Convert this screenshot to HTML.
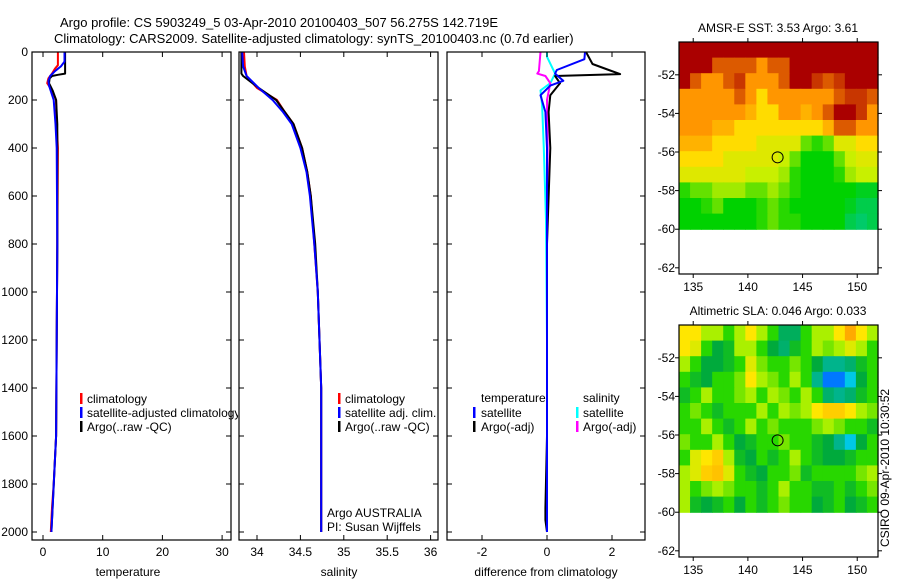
<!DOCTYPE html>
<html><head><meta charset="utf-8">
<style>
html,body{margin:0;padding:0;background:#fff;}
svg{display:block;font-family:"Liberation Sans",sans-serif;}
</style></head>
<body>
<svg id="chart" width="900" height="580" viewBox="0 0 900 580" xmlns="http://www.w3.org/2000/svg">
<text x="60" y="27" font-size="13">Argo profile: CS 5903249_5 03-Apr-2010 20100403_507 56.275S 142.719E</text>
<text x="54" y="43" font-size="13">Climatology: CARS2009. Satellite-adjusted climatology: synTS_20100403.nc (0.7d earlier)</text>
<text transform="translate(889,547) rotate(-90)" font-size="12">CSIRO 09-Apr-2010 10:30:52</text>
<clipPath id="c1"><rect x="0" y="0" width="238" height="580"/></clipPath>
<g id="g"></g>
</svg>
<script>
// ---------- profile data ----------
const tClimDepth = [0,55,70,90,110,130,160,200,300,400,800,1200,1600,1800,1900,2000];
const tClimVal   = [2.5,2.5,2.0,1.5,0.9,0.7,1.5,2.2,2.3,2.5,2.4,2.3,2.2,1.8,1.5,1.3];
const tSatDepth  = [0,40,60,80,100,120,140,200,300,400,800,1200,1600,2000];
const tSatVal    = [3.6,3.6,3.0,2.0,1.2,0.9,1.0,1.8,2.1,2.3,2.4,2.3,2.2,1.4];
const tArgoDepth = [0,90,95,100,110,130,160,200,300,400,800,1200,1600,1900,2000];
const tArgoVal   = [3.7,3.7,2.5,1.5,1.1,1.0,1.6,2.2,2.4,2.4,2.4,2.3,2.2,1.6,1.4];

const sClimDepth = [0,60,100,150,200,250,300,400,500,600,800,1000,1200,1400,2000];
const sClimVal   = [33.85,33.86,33.88,34.0,34.23,34.32,34.42,34.52,34.58,34.62,34.66,34.70,34.72,34.74,34.74];
const sSatDepth  = [0,60,100,150,200,250,300,400,500,600,800,1000,1200,1400,2000];
const sSatVal    = [33.83,33.84,33.88,34.02,34.18,34.30,34.40,34.50,34.57,34.61,34.66,34.70,34.72,34.74,34.74];
const sArgoDepth = [0,90,100,150,200,250,300,400,500,600,800,1000,1200,1400,2000];
const sArgoVal   = [33.82,33.82,33.84,34.02,34.22,34.32,34.42,34.52,34.58,34.62,34.67,34.70,34.72,34.74,34.74];

const dTSatDepth  = [0,30,75,90,120,140,180,250,400,800,1200,1600,2000];
const dTSatVal    = [1.17,1.15,0.3,0.25,0.5,0.1,-0.2,-0.05,0.0,0.0,0.0,0.0,0.0];
const dTArgoDepth = [0,50,75,92,100,130,180,250,400,800,1200,1600,1900,1950,2000];
const dTArgoVal   = [1.2,1.4,1.9,2.25,0.25,0.4,0.1,0.05,0.1,0.0,0.0,0.0,-0.05,-0.05,0.0];
const dSSatDepth  = [0,20,90,130,160,220,400,700,1200,2000];
const dSSatVal    = [0.0,0.0,0.25,0.1,-0.2,-0.15,-0.1,-0.03,0.0,0.0];
const dSArgoDepth = [0,80,90,100,130,200,400,800,1200,2000];
const dSArgoVal   = [-0.2,-0.25,-0.3,-0.05,0.1,0.0,0.02,0.0,0.0,0.0];

const depthTicks = [0,200,400,600,800,1000,1200,1400,1600,1800,2000];
const tempTicks = [0,10,20,30];
const salTicks = [34,34.5,35,35.5,36];
const salTickLabels = ["34","34.5","35","35.5","36"];
const diffTicks = [-2,0,2];

// ---------- map data ----------
const sstRows = [
[4,4,4,4,4,4,4,4,4,4,4,4,4,4,4,4,4,4],
[4,4,4,3.5,3.5,3.5,3.5,3,3.5,3.5,4,4,4,4,4,4,4,4],
[4,3.5,3,3,3.5,3.7,3,3,3,3.5,4,4,3.7,3.5,3.7,4,4,4],
[3,3,3,3,3,3.5,3,2.5,3,3,3,3,3,3,3.5,3.7,3.7,3.5],
[3,3,3,3,3,3,2.8,2.5,2.5,3,3,2.8,3,3.5,4,4,3.7,3],
[3,3,3,2.8,2.8,2.5,2.5,2.5,2.5,2.5,2.5,2.5,2.5,2.8,3.5,3.5,3,3],
[2.8,2.8,2.8,2.5,2.5,2.5,2.5,2.2,2.2,2.2,2.2,1.5,1.2,1.5,2.2,2.2,2.5,2.5],
[2.5,2.5,2.5,2.5,2.2,2.2,2.2,2.2,2.2,2,1.5,1,1,1,1.5,2,2.2,2.2],
[2.2,2.2,2.2,2.2,2.2,2.2,2,2,2,1.8,1.2,1,1,1,1.2,1.8,2,2],
[1.2,1.5,1.5,1.8,1.8,1.8,1.5,1.5,1.8,1.5,1.2,1,1,1,1,1,0.8,0.8],
[1,1,1.2,1.5,1,1,1,1.2,1.5,1.2,1,1,1,1,1,0.8,0.5,0.5],
[1,1,1,1,1,1,1,1.2,1.5,1.2,1.2,1,1,1,1,0.5,0.3,0.5]];
const slaRows = [
[1,1,.5,.5,0,.5,1,.5,0,-.7,-.7,0,.5,.5,1,1.5,1,.5],
[1,.8,0,-.5,-.3,.5,.5,0,-.5,-.8,-.3,0,.5,.3,.5,.8,.5,0],
[.5,0,-.5,-.5,-.3,0,.8,.3,0,0,.3,0,-.5,-1,-1,-.8,-.3,0],
[0,-.3,-.5,0,0,.3,1,.5,.3,0,.5,0,-1,-2,-2,-1.5,-.5,0],
[-.3,0,.5,0,0,.3,.5,0,.5,.3,0,.5,0,-.8,-1,-.8,-.3,0],
[0,.3,0,-.3,0,0,0,.5,0,.5,.3,.5,1,1.2,1.2,1,.5,.3],
[0,0,.5,0,-.3,0,.5,0,.3,0,0,0,.3,.5,.3,0,0,-.3],
[.3,0,0,.5,0,-.5,-.3,0,0,.3,0,0,-.3,-.5,-1,-1.5,-.5,0],
[0,.8,1,1.2,.5,-.3,-.5,0,-.3,0,.5,0,-.3,-.5,-.5,-.3,0,0],
[.5,.8,1.2,1.3,.8,0,-.3,-.5,0,0,.3,-.3,0,0,0,0,.3,.5],
[.5,0,.3,.5,.3,0,0,-.3,0,.5,0,0,-.3,-.3,0,-.3,0,.3],
[.5,-.3,-.5,-.3,0,-.5,0,-.3,0,.3,0,0,-.5,-.3,0,-.5,-.3,0]];
const latTicks = [-52,-54,-56,-58,-60,-62];
const lonTicks = [135,140,145,150];
const argoLon = 142.719, argoLat = -56.275;

// ---------- drawing ----------
const NS="http://www.w3.org/2000/svg";
const G=document.getElementById('g');
function mk(tag,attrs,parent){const e=document.createElementNS(NS,tag);for(const k in attrs)e.setAttribute(k,attrs[k]);(parent||G).appendChild(e);return e;}
const yD = d => 52 + d*0.24;
const P1={x0:32,x1:231}, P2={x0:239,x1:438}, P3={x0:447,x1:645}, Y0=52, Y1=540;
const xT = v => 43 + v*5.97;
const xS = v => 257 + (v-34)*86.8;
const xDf = v => 547 + v*32.5;

function line(depths,vals,xf,color,name,w){
  const pts=depths.map((d,i)=>xf(vals[i]).toFixed(1)+','+yD(d).toFixed(1)).join(' ');
  const e=mk('polyline',{points:pts,fill:'none',stroke:color,'stroke-width':w||2,'stroke-linejoin':'round'});
  
  
}
function frame(P,name){
  const r=mk('rect',{x:P.x0,y:Y0,width:P.x1-P.x0,height:Y1-Y0,fill:'none',stroke:'#000','stroke-width':1.2});
  
  
  depthTicks.forEach(d=>{
    mk('line',{x1:P.x0,x2:P.x0+5,y1:yD(d),y2:yD(d),stroke:'#000'});
    mk('line',{x1:P.x1-5,x2:P.x1,y1:yD(d),y2:yD(d),stroke:'#000'});
  });
}
function xaxis(ticks,labels,xf,title,cx){
  ticks.forEach((t,i)=>{
    const x=xf(t);
    mk('line',{x1:x,x2:x,y1:Y0,y2:Y0+5,stroke:'#000'});
    mk('line',{x1:x,x2:x,y1:Y1-5,y2:Y1,stroke:'#000'});
    const tx=mk('text',{x:x,y:Y1+16,'font-size':12,'text-anchor':'middle'});tx.textContent=labels[i];
    
    
  });
  const tt=mk('text',{x:cx,y:576,'font-size':12,'text-anchor':'middle'});tt.textContent=title;
  
  
}
function txt(x,y,s,name,parent){const t=mk('text',{x:x,y:y,'font-size':12},parent);t.textContent=s;
  
  return t;}
function bar(x,y,c){mk('rect',{x:x,y:y-10,width:2.5,height:11,fill:c});}

depthTicks.forEach(d=>{const t=mk('text',{x:28,y:yD(d)+4,'font-size':12,'text-anchor':'end'});t.textContent=d;
  
  });

// panel 1
line(tClimDepth,tClimVal,xT,'#f00','temp-climatology-line');
line(tArgoDepth,tArgoVal,xT,'#000','temp-argo-line');
line(tSatDepth,tSatVal,xT,'#00f','temp-satellite-line');
frame(P1,'temperature-panel');
xaxis(tempTicks,tempTicks.map(String),xT,'temperature',128);
const lg1=mk('g',{'clip-path':'url(#c1)'});
bar(80,403,'#f00');txt(87,403,'climatology','legend-climatology',lg1);
bar(80,417,'#00f');txt(87,417,'satellite-adjusted climatology','legend-satellite',lg1);
bar(80,431,'#000');txt(87,431,'Argo(..raw -QC)','legend-argo',lg1);

// panel 2
line(sClimDepth,sClimVal,xS,'#f00','sal-climatology-line');
line(sArgoDepth,sArgoVal,xS,'#000','sal-argo-line');
line(sSatDepth,sSatVal,xS,'#00f','sal-satellite-line');
frame(P2,'salinity-panel');
xaxis(salTicks,salTickLabels,xS,'salinity',339);
bar(338,403,'#f00');txt(345,403,'climatology','legend-climatology');
bar(338,417,'#00f');txt(345,417,'satellite adj. clim.','legend-satellite');
bar(338,431,'#000');txt(345,431,'Argo(..raw -QC)','legend-argo');
txt(327,517,'Argo AUSTRALIA','float-country');
txt(327,531,'PI: Susan Wijffels','float-pi');

// panel 3
line(dSSatDepth,dSSatVal,xDf,'#0ff','diff-sal-satellite-line');
line(dSArgoDepth,dSArgoVal,xDf,'#f0f','diff-sal-argo-line');
line(dTArgoDepth,dTArgoVal,xDf,'#000','diff-temp-argo-line');
line(dTSatDepth,dTSatVal,xDf,'#00f','diff-temp-satellite-line');
frame(P3,'difference-panel');
xaxis(diffTicks,diffTicks.map(String),xDf,'difference from climatology',546);
txt(481,402,'temperature','legend-temperature-header');
txt(583,402,'salinity','legend-salinity-header');
bar(473,417,'#00f');txt(481,417,'satellite','legend-temp-satellite');
bar(473,431,'#000');txt(481,431,'Argo(-adj)','legend-temp-argo');
bar(576,417,'#0ff');txt(583,417,'satellite','legend-sal-satellite');
bar(576,431,'#f0f');txt(583,431,'Argo(-adj)','legend-sal-argo');

// maps
function lerpColor(stops,v){
  if(v<=stops[0][0])return stops[0][1];
  for(let i=1;i<stops.length;i++){if(v<=stops[i][0]){const a=stops[i-1],b=stops[i],t=(v-a[0])/(b[0]-a[0]);
    const c=a[1].map((x,k)=>Math.round(x+(b[1][k]-x)*t));return c;}}
  return stops[stops.length-1][1];
}
const sstStops=[[0,[0,200,150]],[1,[0,210,0]],[2,[200,240,0]],[2.5,[255,220,0]],[3,[255,150,0]],[3.5,[220,90,0]],[4,[170,0,0]]];
const slaStops=[[-2,[0,120,255]],[-1.5,[0,200,230]],[-1,[0,180,140]],[-0.5,[0,170,60]],[0,[40,215,0]],[0.5,[170,240,0]],[1,[255,230,0]],[1.5,[255,170,0]]];
function map(top,rows,stops,title,name){
  const L=679,R=878,lon0=133.7,lon1=151.9,lat0=-50.3,ppd=19.3;
  const xL=v=>L+(v-lon0)*(R-L)/(lon1-lon0), yL=v=>top+(lat0-v)*ppd;
  const g=mk('g',{});
  
  
  const nr=rows.length,nc=rows[0].length,h=(yL(-60)-top)/nr,w=(R-L)/nc;
  rows.forEach((row,i)=>row.forEach((v,j)=>{
    const c=lerpColor(stops,v);
    mk('rect',{x:(L+j*w).toFixed(2),y:(top+i*h).toFixed(2),width:(w+0.6).toFixed(2),height:(h+0.6).toFixed(2),fill:'rgb('+c.join(',')+')'},g);
  }));
  const B=top+232;
  mk('rect',{x:L,y:top,width:R-L,height:B-top,fill:'none',stroke:'#000','stroke-width':1.2},g);
  latTicks.forEach(t=>{const y=yL(t);
    mk('line',{x1:L-4,x2:L,y1:y,y2:y,stroke:'#000'},g);mk('line',{x1:R,x2:R+4,y1:y,y2:y,stroke:'#000'},g);
    const tx=mk('text',{x:L-4,y:y+4,'font-size':12,'text-anchor':'end'},g);tx.textContent=t;});
  lonTicks.forEach(t=>{const x=xL(t);
    mk('line',{x1:x,x2:x,y1:top-4,y2:top,stroke:'#000'},g);mk('line',{x1:x,x2:x,y1:B,y2:B+4,stroke:'#000'},g);
    const tx=mk('text',{x:x,y:B+17,'font-size':12,'text-anchor':'middle'},g);tx.textContent=t;});
  const tt=mk('text',{x:778,y:top-10,'font-size':12,'text-anchor':'middle'},g);tt.textContent=title;
  const c=mk('circle',{cx:xL(argoLon),cy:yL(argoLat),r:5.5,fill:'none',stroke:'#000','stroke-width':1},g);
  
  
}
map(42,sstRows,sstStops,'AMSR-E SST: 3.53 Argo: 3.61','sst-map');
map(325,slaRows,slaStops,'Altimetric SLA: 0.046 Argo: 0.033','sla-map');
</script>
</body></html>
